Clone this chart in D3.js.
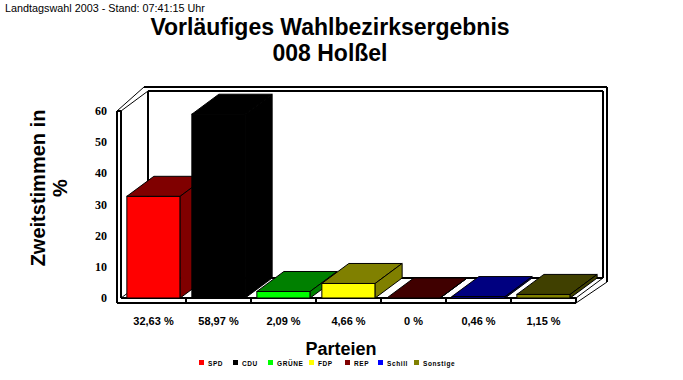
<!DOCTYPE html>
<html><head><meta charset="utf-8">
<script src="https://cdn.jsdelivr.net/npm/d3@7/dist/d3.min.js"></script>
<style>body{margin:0;background:#fff}svg{display:block}</style>
</head><body>
<svg id="c" width="683" height="380"></svg>
<script>
const parties = ["SPD","CDU","GRÜNE","FDP","REP","Schill","Sonstige"];
const values = [32.63, 58.97, 2.09, 4.66, 0, 0.46, 1.15];
const valueLabels = ["32,63 %","58,97 %","2,09 %","4,66 %","0 %","0,46 %","1,15 %"];
const frontColors = ["#ff0000","#000000","#00ff00","#ffff00","#800000","#0000ff","#808000"];
const darkColors  = ["#800000","#000000","#008000","#808000","#400000","#000080","#404000"];
const yTicks = [0,10,20,30,40,50,60];

const svg = d3.select("#c");
const L = 121, R = 576, B = 298, T = 111;
const dx = 27, dy = -20;
const x = d3.scaleBand().domain(parties).range([L, R]).paddingInner(0.18).paddingOuter(0.09);
const y = d3.scaleLinear().domain([0, 60]).range([B, T]);
const line = (x1,y1,x2,y2) => svg.append("line").attr("x1",x1).attr("y1",y1).attr("x2",x2).attr("y2",y2)
  .attr("stroke","#000").attr("stroke-width",1.2).attr("shape-rendering","crispEdges");
const diag = (x1,y1,x2,y2) => svg.append("line").attr("x1",x1).attr("y1",y1).attr("x2",x2).attr("y2",y2)
  .attr("stroke","#000").attr("stroke-width",1);

// texts
svg.append("text").attr("x",5).attr("y",12).attr("font-family","Liberation Sans, Arial").attr("font-size",10.8)
  .text("Landtagswahl 2003 - Stand: 07:41:15 Uhr");
svg.append("text").attr("x",330).attr("y",35).attr("text-anchor","middle").attr("font-family","Liberation Sans, Arial")
  .attr("font-weight","bold").attr("font-size",23).text("Vorläufiges Wahlbezirksergebnis");
svg.append("text").attr("x",330).attr("y",61).attr("text-anchor","middle").attr("font-family","Liberation Sans, Arial")
  .attr("font-weight","bold").attr("font-size",23).text("008 Holßel");

// back wall
const bx0 = L+dx, bx1 = R+dx, by0 = y(60)+dy, by1 = B+dy;
line(bx0-4, by0-4, bx1+4, by0-4);
line(bx0, by0, bx1, by0);
line(bx0, by0, bx0, by1);
line(bx1, by0, bx1, by1);
line(bx1+4, by0-4, bx1+4, by1+4);
line(bx0, by1, bx1, by1);
// left wall
line(L-4, T, L-4, B+5);
line(L, T, L, B);
line(L-4, T, L, T);
diag(L-4, T, bx0-4, by0-4);
diag(L, T, bx0, by0);
diag(L, B, bx0, by1);
// floor
line(L, B, R, B);
line(L-4, B+5, R, B+5);
line(R, B, R, B+5);
diag(R, B, bx1, by1);
diag(R, B+5, bx1+4, by1+4);
x.domain().forEach((p,i) => { if (i>0) { const xx = x(p) - x.step()*x.paddingInner()/2; line(xx, B, xx, B+5); } });

// bars
const g = svg.append("g");
parties.forEach((p,i) => {
  const x0 = x(p), w = x.bandwidth(), yt = y(values[i]);
  const bg = g.append("g").attr("stroke","#000").attr("stroke-width",1).attr("stroke-linejoin","miter");
  bg.append("rect").attr("x",x0).attr("y",yt).attr("width",w).attr("height",B-yt).attr("fill",frontColors[i]);
  bg.append("polygon").attr("points",[[x0,yt],[x0+dx,yt+dy],[x0+w+dx,yt+dy],[x0+w,yt]].join(" ")).attr("fill",darkColors[i]);
  bg.append("polygon").attr("points",[[x0+w,yt],[x0+w+dx,yt+dy],[x0+w+dx,B+dy],[x0+w,B]].join(" ")).attr("fill",darkColors[i]);
});

// y tick labels
yTicks.forEach(t => {
  svg.append("text").attr("x",107).attr("y",y(t)+4).attr("text-anchor","end")
    .attr("font-family","Liberation Serif, Times New Roman").attr("font-weight","bold").attr("font-size",12).text(t);
});
// value labels
parties.forEach((p,i) => {
  svg.append("text").attr("x",x(p)+x.bandwidth()/2).attr("y",325).attr("text-anchor","middle")
    .attr("font-family","Liberation Sans, Arial").attr("font-weight","bold").attr("font-size",11).text(valueLabels[i]);
});
// axis titles
const yt = svg.append("text").attr("transform","translate(45,188) rotate(-90)").attr("text-anchor","middle")
  .attr("font-family","Liberation Sans, Arial").attr("font-weight","bold").attr("font-size",20);
yt.append("tspan").attr("x",0).attr("dy",0).text("Zweitstimmen in");
yt.append("tspan").attr("x",0).attr("dy",22).text("%");
svg.append("text").attr("x",341).attr("y",355).attr("text-anchor","middle").attr("font-family","Liberation Sans, Arial")
  .attr("font-weight","bold").attr("font-size",18).text("Parteien");

// legend
const legX = [199,233,268,309,345,378,414];
parties.forEach((p,i) => {
  svg.append("rect").attr("x",legX[i]).attr("y",360).attr("width",5).attr("height",5).attr("fill",frontColors[i]);
  svg.append("text").attr("x",legX[i]+9).attr("y",366).attr("font-family","Liberation Sans, Arial")
    .attr("font-weight","bold").attr("font-size",6.5).attr("letter-spacing",0.6).text(p);
});
</script>
</body></html>
